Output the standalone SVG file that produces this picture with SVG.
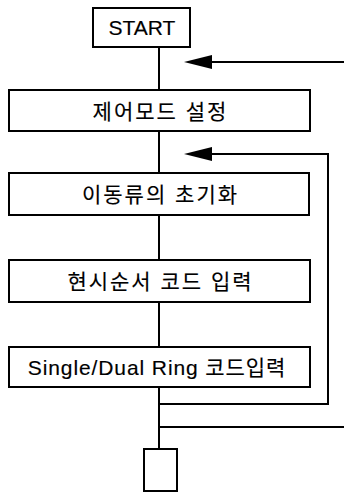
<svg xmlns="http://www.w3.org/2000/svg" width="344" height="493" viewBox="0 0 344 493">
<style>
.box{fill:#fff;stroke:#000;stroke-width:2}
.ln{fill:none;stroke:#000;stroke-width:2}
.t{font-family:"Liberation Sans","Noto Sans CJK KR",sans-serif;font-size:21px;fill:#000;text-anchor:middle;stroke:#000;stroke-width:0.15}
.k{letter-spacing:2px}
.head{fill:#000;stroke:none}
</style>
<rect width="344" height="493" fill="#fff"/>
<g id="connectors">
<path class="ln" d="M159 47V90M159 131V173M159 215V260M159 302V347M159 387V449"/>
<path class="ln" d="M344 62H208"/>
<polygon class="head" points="184,62 212,55 212,69"/>
<path class="ln" d="M159 404H328V154H208"/>
<polygon class="head" points="184,154 212,147 212,161"/>
<path class="ln" d="M159 427H344"/>
</g>
<g id="start"><rect class="box" x="93" y="8" width="97" height="39"/><text class="t" x="142" y="35" font-size="19">START</text></g>
<g id="n1"><rect class="box" x="9" y="90" width="301" height="41"/><text class="t k" x="160.5" y="119" font-size="22">제어모드 설정</text></g>
<g id="n2"><rect class="box" x="9" y="173" width="300" height="42"/><text class="t k" x="160.5" y="202" font-size="22">이동류의 초기화</text></g>
<g id="n3"><rect class="box" x="9" y="260" width="301" height="42"/><text class="t k" x="160.5" y="289" font-size="22">현시순서 코드 입력</text></g>
<g id="n4"><rect class="box" x="9" y="347" width="301" height="40"/><text class="t" x="157" y="375" font-size="21" letter-spacing="0.9">Single/Dual Ring 코드입력</text></g>
<g id="end"><rect class="box" x="144" y="449" width="33" height="42"/></g>
</svg>
